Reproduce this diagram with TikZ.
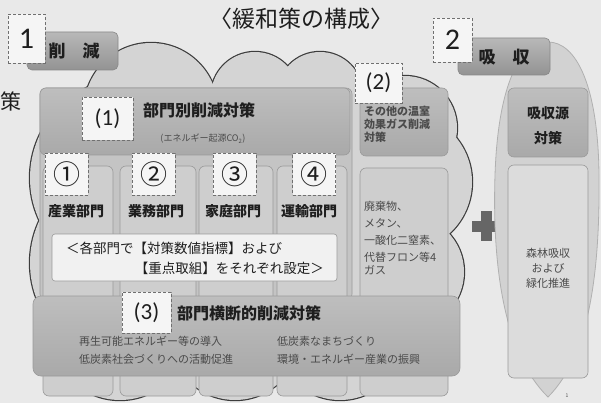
\documentclass[tikz,border=0pt]{standalone}
\usepackage{fontspec}
\setmainfont{Noto Sans CJK JP}
\newfontfamily\numfont{Carlito}
\definecolor{bg}{HTML}{E9E9E9}
\definecolor{cloudfill}{HTML}{D4D4D4}
\definecolor{cloudline}{HTML}{3C3C3C}
\definecolor{panelfill}{HTML}{C4C4C4}
\definecolor{headtop}{HTML}{BEBEBE}
\definecolor{headbot}{HTML}{A9A9A9}
\definecolor{colfill}{HTML}{CECECE}
\definecolor{edge}{HTML}{9A9A9A}
\definecolor{numfill}{HTML}{F5F5F5}
\definecolor{dashc}{HTML}{707070}
\definecolor{ink}{HTML}{1E1E1E}
\definecolor{inkgray}{HTML}{4A4A4A}
\definecolor{plusc}{HTML}{666666}
\definecolor{leaffill}{HTML}{D2D2D2}
\definecolor{leafline}{HTML}{B0B0B0}
\definecolor{tabtop}{HTML}{B8B8B8}
\definecolor{tabbot}{HTML}{939393}
\definecolor{tabline}{HTML}{888888}
\definecolor{notefill}{HTML}{F1F1F1}
\definecolor{lightbox}{HTML}{DCDCDC}
\newcommand\fsz[1]{\fontsize{#1}{#1}\selectfont}
\tikzset{
  panel/.style={draw=edge, line width=0.6pt, rounded corners=6pt, inner sep=0pt},
  numbox/.style={draw=dashc, densely dashed, line width=0.8pt, fill=numfill, inner sep=0pt, text=ink},
  tabbox/.style={draw=tabline, line width=0.6pt, rounded corners=5pt, top color=tabtop, bottom color=tabbot, inner sep=0pt},
  lbl/.style={inner sep=0pt, text=ink},
  smalltxt/.style={inner sep=0pt, text=inkgray},
}
\begin{document}
\begin{tikzpicture}[x=1pt,y=-1pt]
\fill[bg] (0,0) rectangle (601,403);
\useasboundingbox (0,0) rectangle (601,403);

% title and stray text
\node[lbl, font=\fsz{23}] (title) at (301.5,19) {〈緩和策の構成〉};
\node[lbl, font=\fsz{21}] (saku) at (11.5,101) {策};

% cloud
\foreach \cx/\cy/\r in {151/110/67, 255/96/44, 320/95/43, 405/128/52, 402/182/70, 407/272/57, 130/178/100, 130/263/100, 120/330/70, 235/335/65, 340/335/65, 395/320/60}
  \draw[cloudline, line width=2.4pt] (\cx,\cy) circle[radius=\r pt];
\foreach \cx/\cy/\r in {151/110/67, 255/96/44, 320/95/43, 405/128/52, 402/182/70, 407/272/57, 130/178/100, 130/263/100, 120/330/70, 235/335/65, 340/335/65, 395/320/60}
  \fill[cloudfill] (\cx,\cy) circle[radius=\r pt];
\fill[cloudfill] (60,100) rectangle (440,380);

% sector panel
\node[panel, fill=panelfill, minimum width=312pt, minimum height=212pt] (outer) at (196,194) {};
\node[panel, top color=headtop, bottom color=headbot, minimum width=310pt, minimum height=67pt] (head) at (195,121.5) {};
\node[panel, fill=colfill, minimum width=70pt, minimum height=230pt] (col1) at (78,281) {};
\node[panel, fill=colfill, minimum width=76pt, minimum height=230pt] (col2) at (158,281) {};
\node[panel, fill=colfill, minimum width=74pt, minimum height=230pt] (col3) at (236,281) {};
\node[panel, fill=colfill, minimum width=70pt, minimum height=230pt] (col4) at (312,281) {};

\node[numbox, minimum width=51pt, minimum height=43pt, font=\numfont\fsz{23}] (n1) at (107.5,118.5) {(1)};
\node[lbl, anchor=west, font=\bfseries\fsz{16}] (headtxt) at (143,110) {部門別削減対策};
\node[smalltxt, font=\fsz{9}] (headsub) at (203,139) {(エネルギー起源CO\textsubscript{2})};

\node[numbox, minimum width=43pt, minimum height=42pt, font=\fsz{27}] (s1) at (66.5,174) {①};
\node[numbox, minimum width=43pt, minimum height=42pt, font=\fsz{27}] (s2) at (153.5,174) {②};
\node[numbox, minimum width=43pt, minimum height=42pt, font=\fsz{27}] (s3) at (234.5,174) {③};
\node[numbox, minimum width=43pt, minimum height=42pt, font=\fsz{27}] (s4) at (314,174) {④};

\node[lbl, font=\bfseries\fsz{14}] (l1) at (76,211) {産業部門};
\node[lbl, font=\bfseries\fsz{14}] (l2) at (156,211) {業務部門};
\node[lbl, font=\bfseries\fsz{14}] (l3) at (233,211) {家庭部門};
\node[lbl, font=\bfseries\fsz{14}] (l4) at (309,211) {運輸部門};

\node[draw=edge, line width=0.6pt, fill=notefill, rounded corners=3pt, minimum width=285pt, minimum height=47pt, inner sep=0pt] (note) at (194.5,257.5) {};
\node[lbl, anchor=west, font=\fsz{13.5}] (note1) at (66,248) {＜各部門で【対策数値指標】および};
\node[lbl, anchor=east, font=\fsz{13.5}] (note2) at (324,268.5) {【重点取組】をそれぞれ設定＞};

% (2) other gases
\node[panel, top color=headtop, bottom color=headbot, minimum width=88pt, minimum height=68pt] (g2top) at (404,122) {};
\node[panel, fill=colfill, minimum width=88pt, minimum height=228pt] (g2low) at (404,282) {};
\node[numbox, minimum width=47pt, minimum height=40pt, font=\numfont\fsz{23}] (n2) at (378.5,83) {(2)};
\node[smalltxt, anchor=west, align=left, font=\bfseries\fontsize{11}{13}\selectfont, text=ink!80] (g2txt) at (364,124) {その他の温室\\効果ガス削減\\対策};
\node[smalltxt, anchor=west, align=left, font=\fsz{11}] (gases) at (364,238) {廃棄物、\\[6pt]メタン、\\[6pt]一酸化二窒素、\\[6pt]代替フロン等4\\[2pt]ガス};

% (3) cross-sector
\node[panel, rounded corners=8pt, top color=headtop, bottom color=headbot, minimum width=427pt, minimum height=80pt] (cross) at (246.5,336) {};
\node[numbox, minimum width=49pt, minimum height=41pt, font=\numfont\fsz{23}] (n3) at (146.5,312.5) {(3)};
\node[lbl, anchor=west, font=\bfseries\fsz{16}] (crosstxt) at (177,313) {部門横断的削減対策};
\node[smalltxt, anchor=west, font=\fsz{11}] (c1) at (79,341) {再生可能エネルギー等の導入};
\node[smalltxt, anchor=west, font=\fsz{11}] (c2) at (79,359) {低炭素社会づくりへの活動促進};
\node[smalltxt, anchor=west, font=\fsz{11}] (c3) at (277,341) {低炭素なまちづくり};
\node[smalltxt, anchor=west, font=\fsz{11}] (c4) at (277,359) {環境・エネルギー産業の振興};

% plus
\fill[plusc] (472,221) rectangle (501,232);
\fill[plusc] (481,211) rectangle (492,241);

% absorption side
\path[fill=leaffill, draw=leafline, line width=0.8pt] (548,397) .. controls (505,355) and (492,270) .. (495,175) .. controls (498,85) and (520,42) .. (548,42) .. controls (576,42) and (598,85) .. (599,175) .. controls (600,270) and (590,355) .. (548,397) -- cycle;
\node[panel, top color=headtop, bottom color=headbot, minimum width=80pt, minimum height=69pt] (abstop) at (548,122.5) {};
\node[panel, fill=lightbox, minimum width=80pt, minimum height=213pt] (abslow) at (548,271.5) {};
\node[lbl, font=\bfseries\fsz{14}] (abs1) at (548,113) {吸収源};
\node[lbl, font=\bfseries\fsz{14}] (abs2) at (548,138) {対策};
\node[smalltxt, align=center, font=\fsz{11}] (forest) at (548,268) {森林吸収\\[4pt]および\\[4pt]緑化推進};
\node[smalltxt, font=\fsz{5}] (pageno) at (567,396) {1};

% tabs and big numbers
\node[tabbox, minimum width=91pt, minimum height=38pt] (tab1) at (72.5,51) {};
\node[lbl, font=\bfseries\fsz{17}] (tab1txt) at (74,51) {削　減};
\node[numbox, minimum width=37pt, minimum height=49pt, font=\numfont\fsz{30}] (big1) at (26.5,38.5) {1};
\node[tabbox, minimum width=92pt, minimum height=37pt] (tab2) at (504,56.5) {};
\node[lbl, font=\bfseries\fsz{17}] (tab2txt) at (504,57) {吸　収};
\node[numbox, minimum width=39pt, minimum height=44pt, font=\numfont\fsz{30}] (big2) at (452.5,40) {2};
\end{tikzpicture}
\end{document}
